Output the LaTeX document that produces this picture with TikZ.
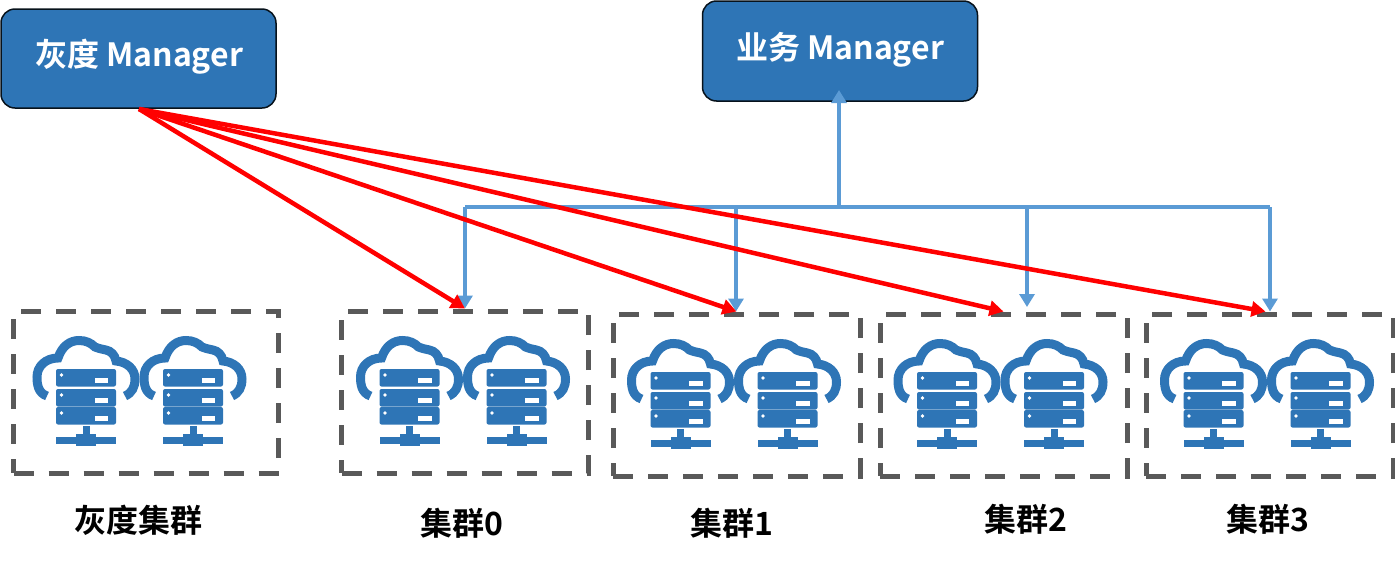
\documentclass[tikz,border=0pt]{standalone}
\usepackage{fontspec}
\setmainfont{Noto Sans CJK SC}[BoldFont={Noto Sans CJK SC Bold}]
\usetikzlibrary{arrows.meta}
\definecolor{srv}{HTML}{2E75B6}
\definecolor{lnk}{HTML}{5B9BD5}
\definecolor{dsh}{HTML}{595959}
\tikzset{
  x=1pt,y=-1pt,
  mgr/.style={draw=black!85!srv,fill=srv,line width=1.5pt,rounded corners=14pt,text=white,font=\fontsize{32}{36}\selectfont\bfseries,minimum width=275pt,inner sep=0pt},
  clusterbox/.style={draw=dsh,line width=5pt,dash pattern=on 20pt off 15pt,minimum width=#1,minimum height=162pt,inner sep=0pt},
  clusterbox/.default=247pt,
  lbl/.style={font=\fontsize{32}{36}\selectfont\bfseries,inner sep=0pt,text=black},
  redarr/.style={draw=red,line width=4.5pt,-{Triangle[length=14pt,width=15pt]}},
  bluearr/.style={draw=lnk,line width=4pt,-{Triangle[length=13pt,width=15pt]}},
  blueline/.style={draw=lnk,line width=4pt},
  pics/hostpair/.style={code={
    \foreach \dx in {0,107}{
      \begin{scope}[shift={(\dx,0)}]
      \draw[srv,line width=9pt,line cap=butt]
        (-39,60) .. controls (-48,57) and (-49,48) .. (-49,41)
        .. controls (-49,30) and (-40,22) .. (-28,22)
        .. controls (-24,10) and (-16,4.5) .. (-7,4.5)
        .. controls (0,4.5) and (5,7) .. (9,11)
        .. controls (14,13) and (16,13) .. (20,14)
        .. controls (25,15) and (29,19) .. (30,25)
        .. controls (41,26) and (49,33) .. (49,43)
        .. controls (49,51) and (46,57) .. (39,60);
      \foreach \yy in {33,53,71}{
        \fill[srv,rounded corners=2pt] (-30,\yy) rectangle (30,\yy+17.5);
        \fill[white] (-24.5,\yy+6) circle (1.8);
        \fill[white] (8.5,\yy+9) rectangle (22,\yy+13.5);
      }
      \fill[srv] (-3.5,90) rectangle (3.5,101);
      \fill[srv] (-30,101) rectangle (30,108);
      \fill[srv] (-10,98) rectangle (10,110);
      \end{scope}
    }
  }}
}
\begin{document}
\begin{tikzpicture}
\useasboundingbox (0,0) rectangle (1395,563);
% managers
\node[mgr,minimum height=99pt] (gray) at (138.5,58.5) {};
\node[text=white,font=\fontsize{32}{36}\selectfont\bfseries,inner sep=0pt] (grayt) at (139,57) {灰度 Manager};
\node[mgr,minimum height=100pt] (biz) at (840,51) {};
\node[text=white,font=\fontsize{32}{36}\selectfont\bfseries,inner sep=0pt] (bizt) at (840,50) {业务 Manager};
% cluster boxes
\node[clusterbox=265pt] (c) at (146,392) {};
\node[clusterbox] (c0) at (465,392) {};
\node[clusterbox] (c1) at (736.5,395) {};
\node[clusterbox] (c2) at (1003.5,395) {};
\node[clusterbox] (c3) at (1269.5,395) {};
% icons
\pic at (86,336) {hostpair};
\pic at (409.5,336) {hostpair};
\pic at (680.5,339) {hostpair};
\pic at (947,339) {hostpair};
\pic at (1213.5,339) {hostpair};
% labels
\node[lbl] (lc) at (138,520) {灰度集群};
\node[lbl] (l0) at (462,523) {集群0};
\node[lbl] (l1) at (732,523) {集群1};
\node[lbl] (l2) at (1026,519) {集群2};
\node[lbl] (l3) at (1268,519) {集群3};
% blue bus
\coordinate (busM) at (839,207);
\coordinate (bus0) at (465,207);
\coordinate (bus1) at (736,207);
\coordinate (bus2) at (1027,207);
\coordinate (bus3) at (1270,207);
\coordinate (bizIn) at (839,90);
\coordinate (t2) at (1027,307);
\draw[blueline] (bus0) -- (bus3);
\draw[bluearr] (busM) -- (bizIn);
\draw[bluearr] (bus0) -- (c0.north -| bus0);
\draw[bluearr] (bus1) -- (c1.north -| bus1);
\draw[bluearr] (bus2) -- (t2);
\draw[bluearr] (bus3) -- (c3.north -| bus3);
% red
\coordinate (gs) at (139,109);
\draw[redarr] (gs) -- (c0.north);
\draw[redarr] (gs) -- (c1.north);
\draw[redarr] (gs) -- (c2.north);
\draw[redarr] (gs) -- ([xshift=-4pt]c3.north);
\end{tikzpicture}
\end{document}
